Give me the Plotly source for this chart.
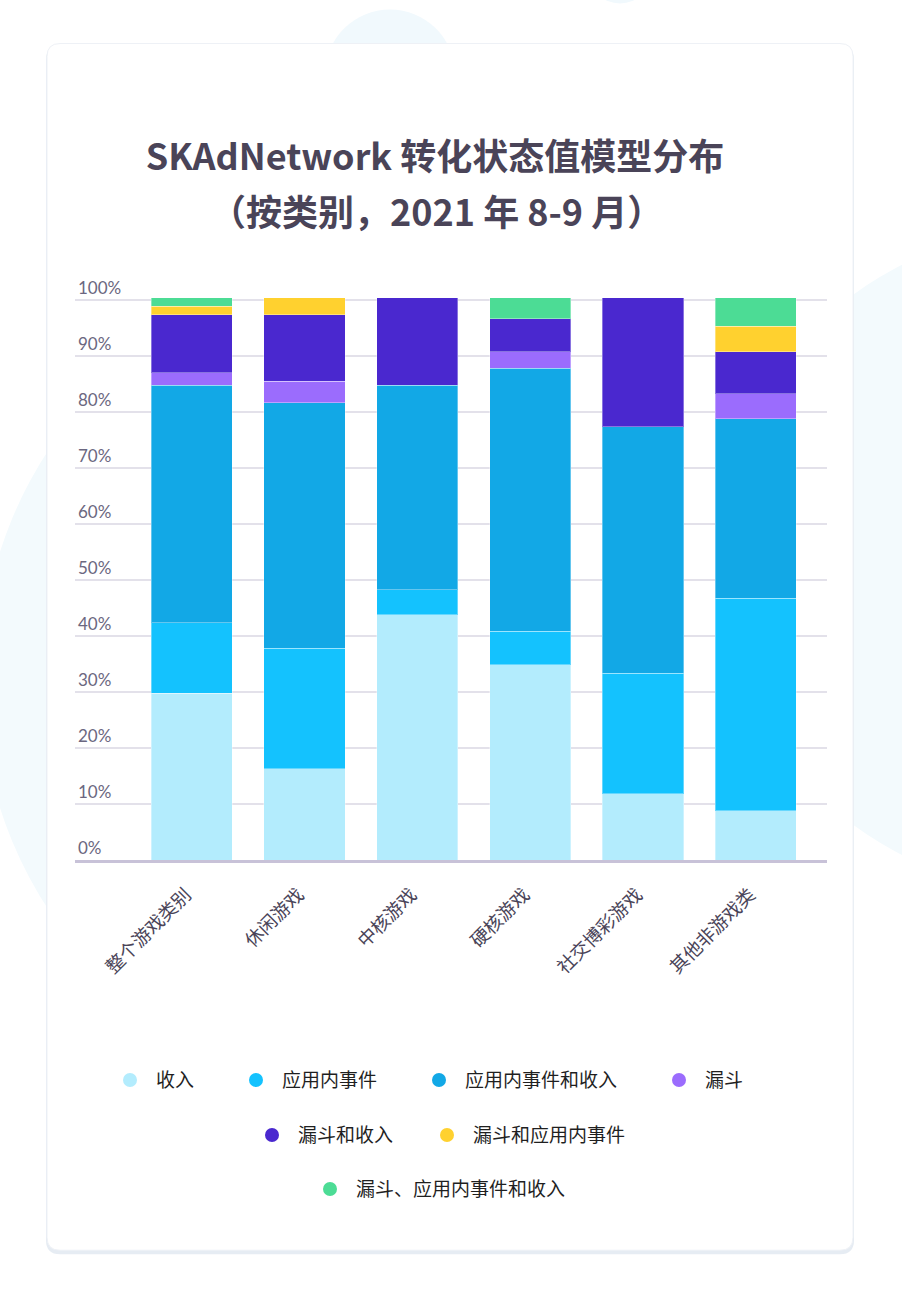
import plotly.graph_objects as go

# ---------------- data ----------------
categories = ["整个游戏类别", "休闲游戏", "中核游戏", "硬核游戏", "社交博彩游戏", "其他非游戏类"]
series_names = ["收入", "应用内事件", "应用内事件和收入", "漏斗", "漏斗和收入", "漏斗和应用内事件", "漏斗、应用内事件和收入"]
revenue = [29.8, 16.3, 43.8, 34.9, 11.8, 8.8]
in_app_events = [12.6, 21.5, 4.5, 6.0, 21.6, 38.0]
in_app_events_revenue = [42.4, 43.9, 36.5, 46.9, 44.0, 32.0]
funnel = [2.2, 3.8, None, 3.0, None, 4.5]
funnel_revenue = [10.4, 11.9, 15.6, 5.9, 23.0, 7.5]
funnel_in_app_events = [1.5, 3.0, None, None, None, 4.5]
funnel_in_app_events_revenue = [1.5, None, None, 3.7, None, 5.1]
series_values = [revenue, in_app_events, in_app_events_revenue, funnel,
                 funnel_revenue, funnel_in_app_events, funnel_in_app_events_revenue]
colors = ["#b3ecfd", "#14c2fe", "#12a8e6", "#9b6cfd", "#4a28cf", "#ffd12f", "#4cdc95"]
tick_vals = [0, 10, 20, 30, 40, 50, 60, 70, 80, 90, 100]
tick_text = ["0%", "10%", "20%", "30%", "40%", "50%", "60%", "70%", "80%", "90%", "100%"]
title_line1 = "SKAdNetwork 转化状态值模型分布"
title_line2 = "（按类别，2021 年 8-9 月）"

# ---------------- geometry helpers ----------------
W, H = 902, 1296
Y_TOP = 112.0
UNIT = 5.595
L, R, B = 75, 75, 436
T = (H - B) - Y_TOP * UNIT
PW = W - L - R
PH = H - T - B


def px(x):
    return (x - L) / PW


def py(y):
    return (H - B - y) / PH


def rounded_rect(x0, y0, x1, y1, r):
    pts = [
        f"M {px(x0 + r)} {py(y0)}",
        f"L {px(x1 - r)} {py(y0)}",
        f"Q {px(x1)} {py(y0)} {px(x1)} {py(y0 + r)}",
        f"L {px(x1)} {py(y1 - r)}",
        f"Q {px(x1)} {py(y1)} {px(x1 - r)} {py(y1)}",
        f"L {px(x0 + r)} {py(y1)}",
        f"Q {px(x0)} {py(y1)} {px(x0)} {py(y1 - r)}",
        f"L {px(x0)} {py(y0 + r)}",
        f"Q {px(x0)} {py(y0)} {px(x0 + r)} {py(y0)}",
        "Z",
    ]
    return " ".join(pts)


def circle(cx, cy, r, color):
    return dict(type="circle", xref="paper", yref="paper",
                x0=px(cx - r), x1=px(cx + r), y0=py(cy + r), y1=py(cy - r),
                fillcolor=color, line=dict(width=0), layer="below")


fig = go.Figure()

for name, vals, col in zip(series_names, series_values, colors):
    fig.add_trace(go.Bar(
        x=categories, y=vals, name=name, width=0.72,
        marker=dict(color=col, line=dict(color="rgba(255,255,255,0.35)", width=1)),
        showlegend=False, hoverinfo="skip",
    ))

# legend entries (circle markers), one legend per item for exact placement
legend_pos = [(130, 1080), (256, 1080), (439, 1080), (679, 1080),
              (272, 1135), (447, 1135), (330, 1189)]
for i, (name, col) in enumerate(zip(series_names, colors)):
    lid = "legend" if i == 0 else f"legend{i + 1}"
    fig.add_trace(go.Scatter(
        x=[None], y=[None], mode="markers", name=name,
        marker=dict(color=col, size=14, symbol="circle"),
        legend=lid, showlegend=True,
    ))
    mx, my = legend_pos[i]
    fig.update_layout({lid: dict(
        x=px(mx - 26), y=py(my), xanchor="left", yanchor="middle",
        orientation="h", bgcolor="rgba(0,0,0,0)", borderwidth=0,
        itemwidth=42,
        font=dict(family="Noto Sans CJK SC", size=19, color="#1f1f1f"),
        itemclick=False, itemdoubleclick=False,
    )})

shapes = [
    circle(390, 75, 65, "#f1f9fd"),
    circle(620, -28, 32, "#f1f9fd"),
    circle(400, 680, 420, "#f3fafd"),
    circle(1050, 560, 330, "#f3fafd"),
    dict(type="path", xref="paper", yref="paper", path=rounded_rect(46, 46, 854, 1254, 14),
         fillcolor="#e6ecf3", line=dict(width=0), layer="below"),
    dict(type="path", xref="paper", yref="paper", path=rounded_rect(47, 44, 853, 1250, 13),
         fillcolor="#ffffff", line=dict(color="#eef1f6", width=1), layer="below"),
]

fig.update_layout(
    width=W, height=H,
    margin=dict(l=L, r=R, t=T, b=B, pad=0),
    paper_bgcolor="#ffffff", plot_bgcolor="rgba(0,0,0,0)",
    barmode="stack",
    shapes=shapes,
    title=dict(text=f"<b>{title_line1}</b>", x=435 / W, xanchor="center",
               y=1 - 157 / H, yanchor="middle", yref="container", xref="container",
               font=dict(family="Noto Sans CJK SC", size=36, color="#4a4458")),
    annotations=[dict(text=f"<b>{title_line2}</b>", xref="paper", yref="paper",
                      x=px(436), y=py(210), xanchor="center", yanchor="middle",
                      showarrow=False,
                      font=dict(family="Noto Sans CJK SC", size=36, color="#4a4458"))],
    xaxis=dict(
        range=[-1.035, 5.631], showgrid=False, zeroline=False,
        showline=True, linecolor="#c8c2d8", linewidth=2.5,
        tickangle=-45, ticks="", ticklabelstandoff=14, ticklabelshift=-6,
        tickfont=dict(family="Noto Sans CJK SC", size=18.5, color="#4a4458"),
        fixedrange=True,
    ),
    yaxis=dict(
        range=[0, Y_TOP], tickvals=tick_vals, ticktext=tick_text,
        showgrid=True, gridcolor="#e3e1ea", gridwidth=1.5,
        zeroline=False, showline=False, ticks="",
        ticklabelposition="inside top",
        tickfont=dict(family="Lato", size=17, color="#6b6780"),
        fixedrange=True,
    ),
    font=dict(family="Noto Sans CJK SC"),
)

fig.write_html("out.html", config={"displayModeBar": False},
               post_script="document.body.style.margin='0';")
